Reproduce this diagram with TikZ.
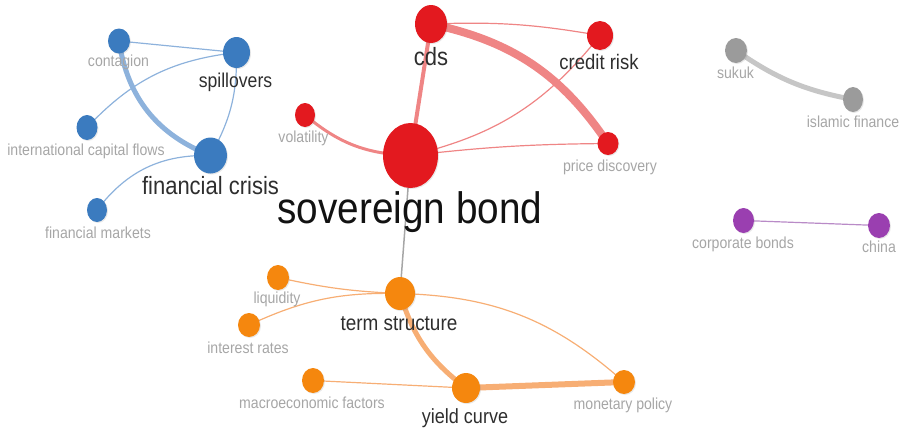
\documentclass[tikz,border=0pt]{standalone}
\usepackage{fontspec}
\setmainfont{Liberation Sans}
\usetikzlibrary{shapes.geometric,backgrounds,shadows}

\definecolor{cblue}{HTML}{3B7BBF}
\definecolor{cred}{HTML}{E3191F}
\definecolor{corange}{HTML}{F5870E}
\definecolor{cgray}{HTML}{9B9B9B}
\definecolor{cpurple}{HTML}{9A3FB0}
\definecolor{eblue}{HTML}{8DB2DC}
\definecolor{ered}{HTML}{EF8585}
\definecolor{eorange}{HTML}{F7AE74}
\definecolor{egray}{HTML}{C6C6C6}
\definecolor{epurple}{HTML}{B98BC7}
\definecolor{lgray}{HTML}{A6A6A6}
\definecolor{ldark}{HTML}{2E2E2E}

\newcommand{\sqz}[1]{\scalebox{0.88}[1]{#1}}

\tikzset{
  dot/.style={ellipse, inner sep=0pt, draw=none,
    drop shadow={shadow xshift=1pt, shadow yshift=-1pt, opacity=0.18}},
  glab/.style={anchor=base, inner sep=0pt, text=lgray, font=\fontsize{16}{16}\selectfont},
  dlab/.style={anchor=base, inner sep=0pt, text=ldark, font=\fontsize{#1}{#1}\selectfont},
  thinedge/.style={line width=1.2pt},
}

\begin{document}
\begin{tikzpicture}[x=1pt, y=-1pt]
\useasboundingbox (0,0) rectangle (904,429);

% ---------- blue cluster ----------
\node[dot, fill=cblue, minimum width=22pt, minimum height=25pt] (contagion) at (119,41) {};
\node[dot, fill=cblue, minimum width=27pt, minimum height=31pt] (spill) at (236.5,52.5) {};
\node[dot, fill=cblue, minimum width=21pt, minimum height=25pt] (icf) at (87,127.5) {};
\node[dot, fill=cblue, minimum width=33pt, minimum height=36pt] (fc) at (210.5,155.5) {};
\node[dot, fill=cblue, minimum width=20pt, minimum height=24pt] (fm) at (97,210) {};

\node[glab] (contagion-l) at (118.5,66.5) {\sqz{contagion}};
\node[dlab=20] (spill-l) at (235.5,87) {\sqz{spillovers}};
\node[glab] (icf-l) at (86,155) {\sqz{international capital flows}};
\node[dlab=25] (fc-l) at (210.5,194) {\sqz{financial crisis}};
\node[glab] (fm-l) at (98,238) {\sqz{financial markets}};

% ---------- red cluster ----------
\node[dot, fill=cred, minimum width=32pt, minimum height=38pt] (cds) at (431,24) {};
\node[dot, fill=cred, minimum width=26pt, minimum height=29pt] (credit) at (600,35.5) {};
\node[dot, fill=cred, minimum width=20pt, minimum height=24pt] (vol) at (305,115) {};
\node[dot, fill=cred, minimum width=55pt, minimum height=65pt] (sov) at (410.5,155.5) {};
\node[dot, fill=cred, minimum width=21pt, minimum height=23pt] (pd) at (608,143.5) {};

\node[dlab=25] (cds-l) at (431,65) {\sqz{cds}};
\node[dlab=21] (credit-l) at (599,69) {\sqz{credit risk}};
\node[glab] (vol-l) at (303.5,142) {\sqz{volatility}};
\node[glab] (pd-l) at (610,171) {\sqz{price discovery}};

% ---------- orange cluster ----------
\node[dot, fill=corange, minimum width=22pt, minimum height=25pt] (liq) at (278,277.5) {};
\node[dot, fill=corange, minimum width=30pt, minimum height=33pt] (ts) at (400,293.5) {};
\node[dot, fill=corange, minimum width=22pt, minimum height=24pt] (ir) at (249,325) {};
\node[dot, fill=corange, minimum width=22pt, minimum height=25pt] (macro) at (313,380.5) {};
\node[dot, fill=corange, minimum width=28pt, minimum height=30pt] (yc) at (466,388) {};
\node[dot, fill=corange, minimum width=22pt, minimum height=24pt] (mp) at (624,382) {};

\node[glab] (liq-l) at (277,303) {\sqz{liquidity}};
\node[dlab=21.5] (ts-l) at (399,330) {\sqz{term structure}};
\node[glab] (ir-l) at (248,353) {\sqz{interest rates}};
\node[glab] (macro-l) at (312,408) {\sqz{macroeconomic factors}};
\node[dlab=20.5] (yc-l) at (465,423) {\sqz{yield curve}};
\node[glab] (mp-l) at (623,409) {\sqz{monetary policy}};

% ---------- gray cluster ----------
\node[dot, fill=cgray, minimum width=22pt, minimum height=25pt] (sukuk) at (736,50.5) {};
\node[dot, fill=cgray, minimum width=20pt, minimum height=25pt] (islam) at (853,99.5) {};
\node[glab] (sukuk-l) at (735.5,78) {\sqz{sukuk}};
\node[glab] (islam-l) at (853,127) {\sqz{islamic finance}};

% ---------- purple cluster ----------
\node[dot, fill=cpurple, minimum width=21pt, minimum height=25pt] (corp) at (743.5,220.5) {};
\node[dot, fill=cpurple, minimum width=22pt, minimum height=25pt] (china) at (879,225.5) {};
\node[glab] (corp-l) at (743,248) {\sqz{corporate bonds}};
\node[glab] (china-l) at (879,252) {\sqz{china}};

% ---------- main label ----------
\node[anchor=base, inner sep=0pt, text=black!93, font=\fontsize{44}{44}\selectfont] (sov-l) at (410,223) {\sqz{sovereign bond}};

% ---------- edges ----------
\begin{scope}[on background layer]
  % blue
  \draw[eblue, thinedge] (contagion.center) -- (spill.center);
  \draw[eblue, thinedge] (spill.center) to[bend right=20] (icf.center);
  \draw[eblue, line width=5pt] (contagion.center) to[bend right=30] (fc.center);
  \draw[eblue, thinedge] (spill.center) to[bend left=15] (fc.center);
  \draw[eblue, thinedge] (fc.center) to[bend right=27] (fm.center);
  % red
  \draw[ered, line width=4pt] (cds.center) -- (sov.center);
  \draw[ered, thinedge] (cds.center) to[bend left=6] (credit.center);
  \draw[ered, line width=8pt] (cds.center) to[bend left=22] (pd.center);
  \draw[ered, line width=3pt] (sov.center) to[bend left=19] (vol.center);
  \draw[ered, thinedge] (sov.center) to[bend right=19] (credit.center);
  \draw[ered, thinedge] (sov.center) to[bend left=3] (pd.center);
  % link between clusters
  \draw[black!35, line width=1.5pt] (sov.center) -- (ts.center);
  % orange
  \draw[eorange, thinedge] (liq.center) to[bend right=5] (ts.center);
  \draw[eorange, thinedge] (ir.center) to[bend left=13] (ts.center);
  \draw[eorange, thinedge] (ts.center) to[bend left=20] (mp.center);
  \draw[eorange, line width=5pt] (ts.center) to[bend right=18] (yc.center);
  \draw[eorange, line width=6pt] (yc.center) -- (mp.center);
  \draw[eorange, thinedge] (macro.center) -- (yc.center);
  % gray
  \draw[egray, line width=5pt] (sukuk.center) to[bend right=12] (islam.center);
  % purple
  \draw[epurple, thinedge] (corp.center) -- (china.center);
\end{scope}
\end{tikzpicture}
\end{document}
